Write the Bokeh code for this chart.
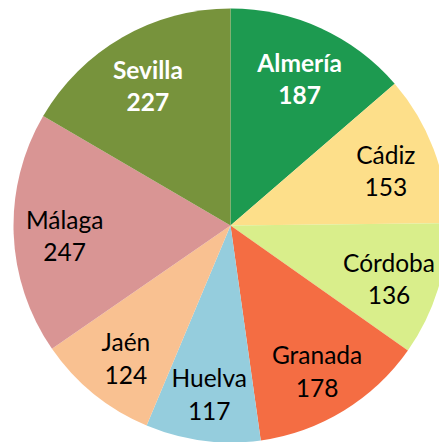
import math
from bokeh.plotting import figure
from bokeh.models import ColumnDataSource
from bokeh.core.properties import value
from bokeh.embed import file_html
from bokeh.resources import INLINE

provincias = ["Almería", "Cádiz", "Córdoba", "Granada", "Huelva", "Jaén", "Málaga", "Sevilla"]
valores = [187, 153, 136, 178, 117, 124, 247, 227]
colores = ["#1D9A50", "#FDDF8A", "#D9EE8B", "#F46D43", "#95CDDD", "#F9C191", "#D99594", "#77933C"]
color_texto = ["white", "black", "black", "black", "black", "black", "black", "white"]
estilo_texto = ["bold", "normal", "normal", "normal", "normal", "normal", "normal", "bold"]

R = 217
total = sum(valores)
starts, ends, lx, ly = [], [], [], []
acc = 0.0
for v in valores:
    a0 = acc / total * 2 * math.pi
    acc += v
    a1 = acc / total * 2 * math.pi
    # clockwise from top
    starts.append(math.pi / 2 - a1)
    ends.append(math.pi / 2 - a0)
    mid = (a0 + a1) / 2
    d = 0.765 * R
    lx.append(d * math.sin(mid))
    ly.append(d * math.cos(mid) - 4)

src = ColumnDataSource(dict(
    start=starts, end=ends, color=colores, name=provincias,
    val=[str(v) for v in valores], x=lx,
    y_name=[y + 16.5 for y in ly], y_val=[y - 16.5 for y in ly],
    tcolor=color_texto, tstyle=estilo_texto,
))

p = figure(width=439, height=442, x_range=(-230, 209), y_range=(-217, 225),
           output_backend="svg", toolbar_location=None, min_border=0)
p.axis.visible = False
p.grid.visible = False
p.outline_line_color = None
p.background_fill_color = "white"
p.border_fill_color = "white"

p.wedge(x=0, y=0, radius=R, start_angle="start", end_angle="end",
        fill_color="color", line_color=None, source=src)

for ycol, tcol in (("y_name", "name"), ("y_val", "val")):
    p.text(x="x", y=ycol, text=tcol, source=src, text_align="center",
           text_baseline="middle", text_font=value("Lato"), text_font_size="24.5px",
           text_color="tcolor", text_font_style="tstyle")

open("out.html", "w").write(file_html(p, INLINE))
